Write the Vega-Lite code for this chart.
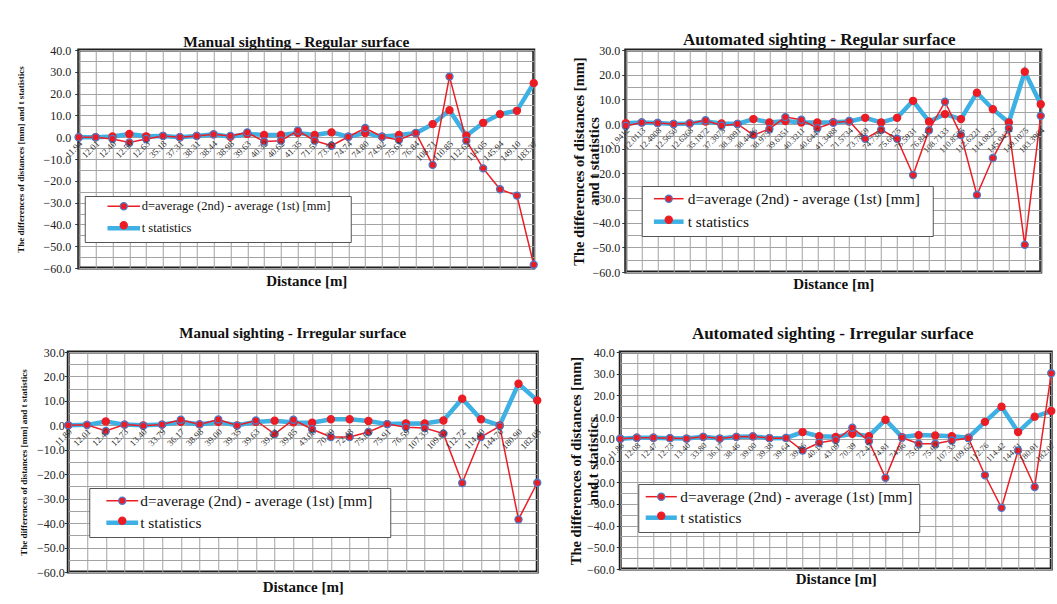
{
  "$schema": "https://vega.github.io/schema/vega-lite/v6.json",
  "background": "white",
  "padding": {"left": 15, "top": 29, "right": 0, "bottom": 0},
  "config": {
    "font": "Liberation Serif",
    "view": {"stroke": "#1e1e1e", "strokeWidth": 3},
    "axis": {"gridColor": "#a3a3a3", "gridOpacity": 1, "gridWidth": 1, "domain": false, "ticks": false, "labelColor": "#222", "titleColor": "#111", "labelFont": "Liberation Serif", "titleFont": "Liberation Serif", "titleFontWeight": "bold"},
    "axisY": {"ticks": true, "tickSize": 4, "tickWidth": 1, "tickColor": {"condition": {"test": "datum.value % 10 == 0", "value": "#333"}, "value": "transparent"}},
    "title": {"font": "Liberation Serif", "fontWeight": "bold", "color": "#111"},
    "legend": {"labelFont": "Liberation Serif", "labelColor": "#111", "labelLimit": 600, "title": null}
  },
  "datasets": {
    "p1": [
      {"dist": "11.94", "d": 0, "t": 0},
      {"dist": "12.01", "d": 0, "t": 0},
      {"dist": "12.40", "d": -0.8, "t": 0.3},
      {"dist": "12.50", "d": -2.4, "t": 1.5},
      {"dist": "12.63", "d": -0.8, "t": 0.4},
      {"dist": "35.18", "d": 0.6, "t": 0.6},
      {"dist": "37.31", "d": 0, "t": 0},
      {"dist": "38.31", "d": 0.6, "t": 0.6},
      {"dist": "38.44", "d": 1.3, "t": 1.3},
      {"dist": "38.98", "d": 0.6, "t": 0.2},
      {"dist": "39.63", "d": 2.2, "t": 1.5},
      {"dist": "40.32", "d": -2.0, "t": 1.0},
      {"dist": "40.62", "d": -1.6, "t": 1.0},
      {"dist": "41.35", "d": 3.0, "t": 1.9},
      {"dist": "71.57", "d": -1.6, "t": 1.0},
      {"dist": "73.70", "d": -3.9, "t": 2.2},
      {"dist": "74.74", "d": 0.2, "t": 0.2},
      {"dist": "74.80", "d": 4.2, "t": 1.9},
      {"dist": "74.92", "d": 0.2, "t": 0.2},
      {"dist": "75.61", "d": -1.3, "t": 1.0},
      {"dist": "76.84", "d": 2.0, "t": 1.8},
      {"dist": "108.71", "d": -12.7, "t": 6.0},
      {"dist": "110.85", "d": 27.8, "t": 12.4},
      {"dist": "112.62", "d": -1.6, "t": 0.7},
      {"dist": "114.05", "d": -14.3, "t": 6.6},
      {"dist": "145.94", "d": -23.9, "t": 10.6},
      {"dist": "149.10", "d": -26.8, "t": 12.1},
      {"dist": "183.37", "d": -58.5, "t": 24.8}
    ],
    "p2": [
      {"dist": "11.9412", "d": -0.8, "t": 0.3},
      {"dist": "12.0113", "d": 0.6, "t": 0.6},
      {"dist": "12.4008", "d": 0.4, "t": 0.4},
      {"dist": "12.5650", "d": 0, "t": 0},
      {"dist": "12.6268", "d": 0.2, "t": 0.2},
      {"dist": "35.1872", "d": 1.5, "t": 1.0},
      {"dist": "37.3075", "d": -0.7, "t": 0.2},
      {"dist": "38.3091", "d": 0, "t": 0},
      {"dist": "38.4446", "d": -4.5, "t": 2.0},
      {"dist": "38.9751", "d": -2.0, "t": 0.6},
      {"dist": "39.6351", "d": 2.8, "t": 1.2},
      {"dist": "40.3211", "d": 1.7, "t": 0.6},
      {"dist": "40.6447", "d": -1.7, "t": 0.6},
      {"dist": "41.3488", "d": 0.5, "t": 0.7},
      {"dist": "71.5734", "d": 1.2, "t": 1.0},
      {"dist": "73.7869", "d": -6.0, "t": 2.5},
      {"dist": "74.7382", "d": -2.3, "t": 0.6},
      {"dist": "75.6075", "d": -6.0, "t": 2.5},
      {"dist": "76.5931", "d": -20.7, "t": 9.4},
      {"dist": "76.8417", "d": -2.5, "t": 1.0},
      {"dist": "108.7133", "d": 9.0, "t": 4.0},
      {"dist": "110.8535", "d": -4.5, "t": 2.0},
      {"dist": "112.6221", "d": -28.8, "t": 12.7},
      {"dist": "114.0822", "d": -13.8, "t": 6.0},
      {"dist": "145.9434", "d": -1.7, "t": 0.6},
      {"dist": "149.1075", "d": -49.0, "t": 21.2},
      {"dist": "183.3964", "d": 3.3, "t": 8.0}
    ],
    "p3": [
      {"dist": "11.80", "d": 0, "t": 0},
      {"dist": "12.01", "d": 0.2, "t": 0.2},
      {"dist": "12.47", "d": -2.3, "t": 1.6},
      {"dist": "12.73", "d": 0.3, "t": 0.3},
      {"dist": "13.40", "d": -0.2, "t": 0},
      {"dist": "33.79", "d": 0.3, "t": 0.3},
      {"dist": "36.17", "d": 2.3, "t": 1.4},
      {"dist": "38.98", "d": 0.4, "t": 0.4},
      {"dist": "39.00", "d": 2.4, "t": 1.4},
      {"dist": "39.35", "d": -0.1, "t": 0},
      {"dist": "39.63", "d": 2.0, "t": 1.4},
      {"dist": "39.64", "d": -3.6, "t": 1.9},
      {"dist": "39.85", "d": 2.3, "t": 1.2},
      {"dist": "43.08", "d": -1.6, "t": 1.1},
      {"dist": "70.39", "d": -4.8, "t": 2.5},
      {"dist": "72.48", "d": -4.8, "t": 2.5},
      {"dist": "75.61", "d": -2.7, "t": 1.8},
      {"dist": "75.91", "d": 0.5, "t": 0.5},
      {"dist": "76.59", "d": -0.8, "t": 0.8},
      {"dist": "107.33", "d": -1.1, "t": 0.8},
      {"dist": "109.62", "d": -3.4, "t": 2.0},
      {"dist": "112.72", "d": -23.6, "t": 10.9},
      {"dist": "114.40", "d": -4.8, "t": 2.5},
      {"dist": "144.70", "d": -0.3, "t": 0},
      {"dist": "180.90", "d": -38.5, "t": 17.0},
      {"dist": "182.03", "d": -23.5, "t": 10.2}
    ],
    "p4": [
      {"dist": "11.86", "d": 0, "t": 0},
      {"dist": "12.08", "d": 0.5, "t": 0.5},
      {"dist": "12.47", "d": 0.5, "t": 0.5},
      {"dist": "12.73", "d": 0.3, "t": 0.3},
      {"dist": "13.40", "d": 0.1, "t": 0.1},
      {"dist": "33.80", "d": 0.9, "t": 0.9},
      {"dist": "36.17", "d": 0.1, "t": 0.1},
      {"dist": "38.46", "d": 0.9, "t": 0.9},
      {"dist": "39.00", "d": 1.1, "t": 1.1},
      {"dist": "39.38", "d": 0.3, "t": 0.3},
      {"dist": "39.64", "d": 0.4, "t": 0.4},
      {"dist": "39.86", "d": -5.4, "t": 3.1},
      {"dist": "40.11", "d": -1.8, "t": 1.2},
      {"dist": "43.09", "d": -0.6, "t": 0.9},
      {"dist": "70.39", "d": 5.1, "t": 2.3},
      {"dist": "72.47", "d": -1.1, "t": 1.2},
      {"dist": "74.81", "d": -18.0, "t": 8.8},
      {"dist": "74.96", "d": 0.5, "t": 0.8},
      {"dist": "75.62", "d": -2.3, "t": 1.7},
      {"dist": "75.92", "d": -2.3, "t": 1.5},
      {"dist": "107.33", "d": -0.8, "t": 1.2},
      {"dist": "109.62", "d": 0.3, "t": 0.5},
      {"dist": "112.76", "d": -16.8, "t": 7.8},
      {"dist": "114.42", "d": -31.8, "t": 14.8},
      {"dist": "144.71", "d": -5.4, "t": 3.1},
      {"dist": "180.91", "d": -22.2, "t": 10.2},
      {"dist": "182.07", "d": 30.2, "t": 12.8}
    ]
  },
  "center": true,
  "spacing": 30,
  "resolve": {"scale": {"color": "independent", "stroke": "independent"}, "legend": {"color": "independent", "stroke": "independent"}},
  "vconcat": [
    {
      "spacing": 25,
      "resolve": {"scale": {"color": "independent", "stroke": "independent"}, "legend": {"color": "independent", "stroke": "independent"}},
      "hconcat": [
        {
          "width": 455, "height": 218,
          "title": {"text": "Manual sighting - Regular surface", "fontSize": 15.5, "offset": -6, "dx": -10},
          "data": {"name": "p1"},
          "transform": [{"fold": ["t", "d"], "as": ["s", "v"]}],
          "encoding": {
            "x": {"field": "dist", "type": "nominal", "sort": null, "scale": {"type": "point", "padding": 0}, "axis": {"labels": false, "grid": true, "title": "Distance [m]", "titleFontSize": 15, "titlePadding": 5}},
            "y": {"field": "v", "type": "quantitative", "scale": {"domain": [-60, 40], "nice": false}, "axis": {"values": [-60,-55,-50,-45,-40,-35,-30,-25,-20,-15,-10,-5,0,5,10,15,20,25,30,35,40], "labelExpr": "datum.value % 10 == 0 ? format(datum.value, '.1f') : ''", "labelFontSize": 12, "labelPadding": 4, "title": "The differences of distances [mm] and t statistics", "titleFontSize": 9, "titlePadding": 17}}
          },
          "layer": [
            {"transform": [{"filter": "datum.s == 't'"}], "mark": {"type": "line", "strokeWidth": 4.5},
             "encoding": {"color": {"field": "s", "type": "nominal", "scale": {"domain": ["d", "t"], "range": ["#ec1c24", "#3eb1e4"]},
               "legend": {"orient": "none", "legendX": 6, "legendY": 146, "symbolType": "M-4.6,0H4.6", "symbolSize": 50, "symbolOffset": 28.75, "labelOffset": 11.75, "padding": 4, "rowPadding": 6, "labelFont": "Liberation Serif", "labelFontSize": 12.5, "fillColor": "white", "strokeColor": "#555", "zindex": 0,
                 "title": "\u00a0", "titleOrient": "right", "titlePadding": 16, "titleFontSize": 1,
                 "labelExpr": "datum.value == 'd' ? 'd=average (2nd) - average (1st) [mm]' : 't statistics'",
                 "encode": {"symbols": {"update": {"strokeWidth": {"signal": "datum.value == 't' ? 4.5 : 1.5"}, "fill": {"value": "transparent"}}}}}}}},
            {"transform": [{"filter": "datum.s == 'd'"}], "mark": {"type": "line", "strokeWidth": 1.5},
             "encoding": {"color": {"field": "s", "type": "nominal", "scale": {"domain": ["d", "t"], "range": ["#ec1c24", "#3eb1e4"]}}}},
            {"mark": {"type": "point", "shape": "circle", "filled": true, "fill": "#ec1c24", "size": 50, "strokeWidth": 1.3, "opacity": 1},
             "encoding": {"stroke": {"field": "s", "type": "nominal", "scale": {"range": ["#4a7bc8", "#ec1c24"]},
               "legend": {"orient": "none", "legendX": 6, "legendY": 146, "symbolType": "circle", "symbolSize": 50, "symbolStrokeWidth": 1.3, "symbolOffset": 28.75, "labelOffset": 11.75, "padding": 4, "rowPadding": 6, "labelFont": "Liberation Serif", "labelFontSize": 12.5, "zindex": 1,
                 "labelExpr": "' '",
                 "encode": {"symbols": {"update": {"fill": {"value": "#ec1c24"}, "opacity": {"value": 1}}}}}}}},
            {"transform": [{"filter": "datum.s == 'd'"}], "mark": {"type": "text", "angle": 315, "align": "right", "baseline": "middle", "dx": -2, "dy": 5, "fontSize": 9, "color": "#333"},
             "encoding": {"y": {"datum": 0}, "text": {"field": "dist"}}}
          ]
        },
        {
          "width": 415, "height": 222,
          "title": {"text": "Automated sighting - Regular surface", "fontSize": 17, "offset": -5, "dx": -14},
          "data": {"name": "p2"},
          "transform": [{"fold": ["t", "d"], "as": ["s", "v"]}],
          "encoding": {
            "x": {"field": "dist", "type": "nominal", "sort": null, "scale": {"type": "point", "padding": 0}, "axis": {"labels": false, "grid": true, "title": "Distance [m]", "titleFontSize": 15, "titlePadding": 4}},
            "y": {"field": "v", "type": "quantitative", "scale": {"domain": [-60, 30], "nice": false}, "axis": {"values": [-60,-55,-50,-45,-40,-35,-30,-25,-20,-15,-10,-5,0,5,10,15,20,25,30], "labelExpr": "datum.value % 10 == 0 ? format(datum.value, '.1f') : ''", "labelFontSize": 12, "labelPadding": 2, "title": ["The differences of distances [mm]", "and t statistics"], "titleFontSize": 14.5, "titleLineHeight": 15, "titlePadding": -10}}
          },
          "layer": [
            {"transform": [{"filter": "datum.s == 't'"}], "mark": {"type": "line", "strokeWidth": 4.5},
             "encoding": {"color": {"field": "s", "type": "nominal", "scale": {"domain": ["d", "t"], "range": ["#ec1c24", "#3eb1e4"]},
               "legend": {"orient": "none", "legendX": 16, "legendY": 136, "symbolType": "M-4.2,0H4.2", "symbolSize": 50, "symbolOffset": 14.3, "labelOffset": 11.3, "padding": 5, "rowPadding": 4, "labelFont": "Liberation Serif", "labelFontSize": 15.4, "fillColor": "white", "strokeColor": "#555", "zindex": 0,
                 "title": "\u00a0", "titleOrient": "right", "titlePadding": 8, "titleFontSize": 1,
                 "labelExpr": "datum.value == 'd' ? 'd=average (2nd) - average (1st) [mm]' : 't statistics'",
                 "encode": {"symbols": {"update": {"strokeWidth": {"signal": "datum.value == 't' ? 4.5 : 1.5"}, "fill": {"value": "transparent"}}}}}}}},
            {"transform": [{"filter": "datum.s == 'd'"}], "mark": {"type": "line", "strokeWidth": 1.5},
             "encoding": {"color": {"field": "s", "type": "nominal", "scale": {"domain": ["d", "t"], "range": ["#ec1c24", "#3eb1e4"]}}}},
            {"mark": {"type": "point", "shape": "circle", "filled": true, "fill": "#ec1c24", "size": 50, "strokeWidth": 1.3, "opacity": 1},
             "encoding": {"stroke": {"field": "s", "type": "nominal", "scale": {"range": ["#4a7bc8", "#ec1c24"]},
               "legend": {"orient": "none", "legendX": 16, "legendY": 136, "symbolType": "circle", "symbolSize": 50, "symbolStrokeWidth": 1.3, "symbolOffset": 14.3, "labelOffset": 11.3, "padding": 5, "rowPadding": 4, "labelFont": "Liberation Serif", "labelFontSize": 15.4, "zindex": 1,
                 "labelExpr": "' '",
                 "encode": {"symbols": {"update": {"fill": {"value": "#ec1c24"}, "opacity": {"value": 1}}}}}}}},
            {"transform": [{"filter": "datum.s == 'd'"}], "mark": {"type": "text", "angle": 315, "align": "right", "baseline": "middle", "dx": -2, "dy": 5, "fontSize": 8.5, "color": "#333"},
             "encoding": {"y": {"datum": 0}, "text": {"field": "dist"}}}
          ]
        }
      ]
    },
    {
      "spacing": 18,
      "resolve": {"scale": {"color": "independent", "stroke": "independent"}, "legend": {"color": "independent", "stroke": "independent"}},
      "hconcat": [
        {
          "width": 469, "height": 220,
          "title": {"text": "Manual sighting - Irregular  surface", "fontSize": 15, "offset": 5, "dx": -10},
          "data": {"name": "p3"},
          "transform": [{"fold": ["t", "d"], "as": ["s", "v"]}],
          "encoding": {
            "x": {"field": "dist", "type": "nominal", "sort": null, "scale": {"type": "point", "padding": 0}, "axis": {"labels": false, "grid": true, "title": "Distance [m]", "titleFontSize": 15, "titlePadding": 7}},
            "y": {"field": "v", "type": "quantitative", "scale": {"domain": [-60, 30], "nice": false}, "axis": {"values": [-60,-55,-50,-45,-40,-35,-30,-25,-20,-15,-10,-5,0,5,10,15,20,25,30], "labelExpr": "datum.value % 10 == 0 ? format(datum.value, '.1f') : ''", "labelFontSize": 12, "labelPadding": 0, "title": "The differences of distances [mm] and t statistics", "titleFontSize": 9, "titlePadding": 8}}
          },
          "layer": [
            {"transform": [{"filter": "datum.s == 't'"}], "mark": {"type": "line", "strokeWidth": 4.5},
             "encoding": {"color": {"field": "s", "type": "nominal", "scale": {"domain": ["d", "t"], "range": ["#ec1c24", "#3eb1e4"]},
               "legend": {"orient": "none", "legendX": 21, "legendY": 136, "symbolType": "M-4.5,0H4.5", "symbolSize": 50, "symbolOffset": 20.3, "labelOffset": 10.3, "padding": 5, "rowPadding": 3, "labelFont": "Liberation Serif", "labelFontSize": 15.4, "fillColor": "white", "strokeColor": "#555", "zindex": 0,
                 "title": "\u00a0", "titleOrient": "right", "titlePadding": 13, "titleFontSize": 1,
                 "labelExpr": "datum.value == 'd' ? 'd=average (2nd) - average (1st) [mm]' : 't statistics'",
                 "encode": {"symbols": {"update": {"strokeWidth": {"signal": "datum.value == 't' ? 4.5 : 1.5"}, "fill": {"value": "transparent"}}}}}}}},
            {"transform": [{"filter": "datum.s == 'd'"}], "mark": {"type": "line", "strokeWidth": 1.5},
             "encoding": {"color": {"field": "s", "type": "nominal", "scale": {"domain": ["d", "t"], "range": ["#ec1c24", "#3eb1e4"]}}}},
            {"mark": {"type": "point", "shape": "circle", "filled": true, "fill": "#ec1c24", "size": 50, "strokeWidth": 1.3, "opacity": 1},
             "encoding": {"stroke": {"field": "s", "type": "nominal", "scale": {"range": ["#4a7bc8", "#ec1c24"]},
               "legend": {"orient": "none", "legendX": 21, "legendY": 136, "symbolType": "circle", "symbolSize": 50, "symbolStrokeWidth": 1.3, "symbolOffset": 20.3, "labelOffset": 10.3, "padding": 5, "rowPadding": 3, "labelFont": "Liberation Serif", "labelFontSize": 15.4, "zindex": 1,
                 "labelExpr": "' '",
                 "encode": {"symbols": {"update": {"fill": {"value": "#ec1c24"}, "opacity": {"value": 1}}}}}}}},
            {"transform": [{"filter": "datum.s == 'd'"}], "mark": {"type": "text", "angle": 315, "align": "right", "baseline": "middle", "dx": -2, "dy": 5, "fontSize": 9, "color": "#333"},
             "encoding": {"y": {"datum": 0}, "text": {"field": "dist"}}}
          ]
        },
        {
          "width": 431, "height": 217,
          "title": {"text": "Automated sighting - Irregular surface", "fontSize": 17, "offset": 3, "dx": -3},
          "data": {"name": "p4"},
          "transform": [{"fold": ["t", "d"], "as": ["s", "v"]}],
          "encoding": {
            "x": {"field": "dist", "type": "nominal", "sort": null, "scale": {"type": "point", "padding": 0}, "axis": {"labels": false, "grid": true, "title": "Distance [m]", "titleFontSize": 15, "titlePadding": 2}},
            "y": {"field": "v", "type": "quantitative", "scale": {"domain": [-60, 40], "nice": false}, "axis": {"values": [-60,-55,-50,-45,-40,-35,-30,-25,-20,-15,-10,-5,0,5,10,15,20,25,30,35,40], "labelExpr": "datum.value % 10 == 0 ? format(datum.value, '.1f') : ''", "labelFontSize": 12, "labelPadding": 2, "title": ["The differences of distances [mm]", "and t statistics"], "titleFontSize": 14.5, "titleLineHeight": 17, "titlePadding": -14}}
          },
          "layer": [
            {"transform": [{"filter": "datum.s == 't'"}], "mark": {"type": "line", "strokeWidth": 4.5},
             "encoding": {"color": {"field": "s", "type": "nominal", "scale": {"domain": ["d", "t"], "range": ["#ec1c24", "#3eb1e4"]},
               "legend": {"orient": "none", "legendX": 18, "legendY": 132, "symbolType": "M-4.4,0H4.4", "symbolSize": 50, "symbolOffset": 10.3, "labelOffset": 11.3, "padding": 5, "rowPadding": 2, "labelFont": "Liberation Serif", "labelFontSize": 15.4, "fillColor": "white", "strokeColor": "#555", "zindex": 0,
                 "title": "\u00a0", "titleOrient": "right", "titlePadding": 2, "titleFontSize": 1,
                 "labelExpr": "datum.value == 'd' ? 'd=average (2nd) - average (1st) [mm]' : 't statistics'",
                 "encode": {"symbols": {"update": {"strokeWidth": {"signal": "datum.value == 't' ? 4.5 : 1.5"}, "fill": {"value": "transparent"}}}}}}}},
            {"transform": [{"filter": "datum.s == 'd'"}], "mark": {"type": "line", "strokeWidth": 1.5},
             "encoding": {"color": {"field": "s", "type": "nominal", "scale": {"domain": ["d", "t"], "range": ["#ec1c24", "#3eb1e4"]}}}},
            {"mark": {"type": "point", "shape": "circle", "filled": true, "fill": "#ec1c24", "size": 50, "strokeWidth": 1.3, "opacity": 1},
             "encoding": {"stroke": {"field": "s", "type": "nominal", "scale": {"range": ["#4a7bc8", "#ec1c24"]},
               "legend": {"orient": "none", "legendX": 18, "legendY": 132, "symbolType": "circle", "symbolSize": 50, "symbolStrokeWidth": 1.3, "symbolOffset": 10.3, "labelOffset": 11.3, "padding": 5, "rowPadding": 2, "labelFont": "Liberation Serif", "labelFontSize": 15.4, "zindex": 1,
                 "labelExpr": "' '",
                 "encode": {"symbols": {"update": {"fill": {"value": "#ec1c24"}, "opacity": {"value": 1}}}}}}}},
            {"transform": [{"filter": "datum.s == 'd'"}], "mark": {"type": "text", "angle": 315, "align": "right", "baseline": "middle", "dx": -2, "dy": 5, "fontSize": 8.5, "color": "#333"},
             "encoding": {"y": {"datum": 0}, "text": {"field": "dist"}}}
          ]
        }
      ]
    }
  ]
}
